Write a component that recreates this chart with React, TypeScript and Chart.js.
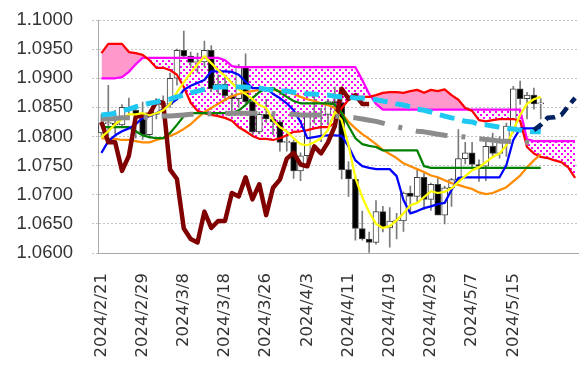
import React, { useEffect, useRef } from 'react';
import { Chart, registerables } from 'chart.js';

Chart.register(...registerables);

const dates: string[] = [
  '2024/2/21', '2024/2/22', '2024/2/23', '2024/2/26', '2024/2/27', '2024/2/28', '2024/2/29',
  '2024/3/1', '2024/3/4', '2024/3/5', '2024/3/6', '2024/3/7', '2024/3/8', '2024/3/11',
  '2024/3/12', '2024/3/13', '2024/3/14', '2024/3/15', '2024/3/18', '2024/3/19', '2024/3/20',
  '2024/3/21', '2024/3/22', '2024/3/25', '2024/3/26', '2024/3/27', '2024/3/28', '2024/3/29',
  '2024/4/1', '2024/4/2', '2024/4/3', '2024/4/4', '2024/4/5', '2024/4/8', '2024/4/9',
  '2024/4/10', '2024/4/11', '2024/4/12', '2024/4/15', '2024/4/16', '2024/4/17', '2024/4/18',
  '2024/4/19', '2024/4/22', '2024/4/23', '2024/4/24', '2024/4/25', '2024/4/26', '2024/4/29',
  '2024/4/30', '2024/5/1', '2024/5/2', '2024/5/3', '2024/5/6', '2024/5/7', '2024/5/8',
  '2024/5/9', '2024/5/10', '2024/5/13', '2024/5/14', '2024/5/15', '2024/5/16', '2024/5/17',
  '2024/5/20', '2024/5/21',
];
const futureLabels: string[] = ['', '', '', '', ''];

const openP = [
  1.0806, 1.0822, 1.0823, 1.0820, 1.0850, 1.0845, 1.0838, 1.0803, 1.0838, 1.0855,
  1.0855, 1.0900, 1.0948, 1.0938, 1.0927, 1.0928, 1.0948, 1.0882, 1.0890, 1.0870,
  1.0865, 1.0920, 1.0860, 1.0808, 1.0838, 1.0830, 1.0825, 1.0790, 1.0790, 1.0741,
  1.0767, 1.0834, 1.0836, 1.0838, 1.0860, 1.0858, 1.0743, 1.0727, 1.0642, 1.0624,
  1.0618, 1.0671, 1.0643, 1.0655, 1.0655, 1.0703, 1.0697, 1.0730, 1.0692, 1.0718,
  1.0665, 1.0712, 1.0726, 1.0762, 1.0772, 1.0752, 1.0749, 1.0783, 1.0771, 1.0790,
  1.0810, 1.0882, 1.0865, 1.0871, 1.0856,
];
const highP = [
  1.0838, 1.0888, 1.0845, 1.0855, 1.0866, 1.0850, 1.0859, 1.0844, 1.0865, 1.0870,
  1.0909, 1.0950, 1.0981, 1.0945, 1.0943, 1.0964, 1.0956, 1.0906, 1.0905, 1.0874,
  1.0924, 1.0942, 1.0866, 1.0842, 1.0864, 1.0840, 1.0828, 1.0805, 1.0794, 1.0772,
  1.0837, 1.0876, 1.0849, 1.0862, 1.0885, 1.0866, 1.0757, 1.0733, 1.0672, 1.0636,
  1.0690, 1.0680, 1.0678, 1.0668, 1.0705, 1.0715, 1.0742, 1.0738, 1.0720, 1.0730,
  1.0715, 1.0728, 1.0812, 1.0790, 1.0790, 1.0760, 1.0790, 1.0806, 1.0800, 1.0823,
  1.0886, 1.0895, 1.0876, 1.0883, 1.0865,
];
const lowP = [
  1.0802, 1.0801, 1.0805, 1.0816, 1.0832, 1.0797, 1.0795, 1.0797, 1.0830, 1.0835,
  1.0850, 1.0888, 1.0935, 1.0918, 1.0910, 1.0920, 1.0877, 1.0873, 1.0861, 1.0835,
  1.0850, 1.0855, 1.0802, 1.0805, 1.0824, 1.0803, 1.0775, 1.0775, 1.0728, 1.0724,
  1.0756, 1.0823, 1.0791, 1.0822, 1.0837, 1.0727, 1.0697, 1.0622, 1.0622, 1.0601,
  1.0615, 1.0636, 1.0610, 1.0624, 1.0637, 1.0671, 1.0686, 1.0675, 1.0673, 1.0666,
  1.0650, 1.0680, 1.0722, 1.0753, 1.0745, 1.0723, 1.0724, 1.0766, 1.0763, 1.0766,
  1.0806, 1.0855, 1.0830, 1.0847, 1.0830,
];
const closeP = [
  1.0822, 1.0823, 1.0820, 1.0850, 1.0845, 1.0838, 1.0803, 1.0838, 1.0855, 1.0855,
  1.0900, 1.0948, 1.0938, 1.0927, 1.0928, 1.0948, 1.0882, 1.0890, 1.0870, 1.0865,
  1.0920, 1.0860, 1.0808, 1.0838, 1.0830, 1.0825, 1.0790, 1.0790, 1.0741, 1.0767,
  1.0834, 1.0836, 1.0838, 1.0860, 1.0858, 1.0743, 1.0727, 1.0642, 1.0624, 1.0618,
  1.0671, 1.0643, 1.0655, 1.0655, 1.0703, 1.0697, 1.0730, 1.0692, 1.0718, 1.0665,
  1.0712, 1.0726, 1.0762, 1.0772, 1.0752, 1.0749, 1.0783, 1.0771, 1.0790, 1.0818,
  1.0882, 1.0865, 1.0871, 1.0856, 1.0856,
];

// Leading span B (magenta)
const senkouB = [
  1.0900, 1.0900, 1.0900, 1.0902, 1.0911, 1.0924, 1.0935, 1.0935, 1.0935, 1.0935,
  1.0935, 1.0935, 1.0935, 1.0935, 1.0935, 1.0935, 1.0935, 1.0935, 1.0931, 1.0921,
  1.0919, 1.0919, 1.0919, 1.0919, 1.0919, 1.0919, 1.0919, 1.0919, 1.0919, 1.0919,
  1.0919, 1.0919, 1.0919, 1.0919, 1.0919, 1.0919, 1.0919, 1.0919, 1.0897, 1.0873,
  1.0856, 1.0846, 1.0846, 1.0846, 1.0846, 1.0846, 1.0846, 1.0846, 1.0846, 1.0846,
  1.0846, 1.0846, 1.0846, 1.0846, 1.0846, 1.0846, 1.0846, 1.0846, 1.0846, 1.0846,
  1.0846, 1.0846, 1.0795, 1.0792, 1.0792, 1.0792, 1.0792, 1.0792, 1.0792, 1.0792,
];
// Leading span A (red)
const senkouA = [
  1.0943, 1.0959, 1.0959, 1.0959, 1.0945, 1.0943, 1.0940, 1.0931, 1.0918, 1.0918,
  1.0914, 1.0906, 1.0885, 1.0858, 1.0844, 1.0840, 1.0837, 1.0835, 1.0832, 1.0827,
  1.0816, 1.0809, 1.0801, 1.0796, 1.0796, 1.0794, 1.0797, 1.0802, 1.0808, 1.0809,
  1.0811, 1.0814, 1.0816, 1.0816, 1.0823, 1.0849, 1.0863, 1.0868, 1.0868, 1.0868,
  1.0871, 1.0875, 1.0876, 1.0876, 1.0875, 1.0878, 1.0880, 1.0875, 1.0880, 1.0878,
  1.0881, 1.0871, 1.0863, 1.0849, 1.0844, 1.0828, 1.0826, 1.0828, 1.0830, 1.0830,
  1.0830, 1.0827, 1.0782, 1.0771, 1.0765, 1.0763, 1.0759, 1.0756, 1.0747, 1.0729,
];
// Conversion line (blue)
const tenkan = [
  1.0772, 1.0792, 1.0802, 1.0809, 1.0814, 1.0821, 1.0832, 1.0835, 1.0840, 1.0847,
  1.0856, 1.0864, 1.0880, 1.0887, 1.0892, 1.0897, 1.0912, 1.0912, 1.0912, 1.0911,
  1.0906, 1.0894, 1.0883, 1.0883, 1.0883, 1.0873, 1.0866, 1.0857, 1.0845, 1.0825,
  1.0797, 1.0799, 1.0801, 1.0802, 1.0802, 1.0801, 1.0783, 1.0759, 1.0749, 1.0746,
  1.0744, 1.0744, 1.0744, 1.0732, 1.0691, 1.0668, 1.0672, 1.0677, 1.0680, 1.0684,
  1.0686, 1.0708, 1.0729, 1.0730, 1.0730, 1.0730, 1.0730, 1.0730, 1.0730, 1.0751,
  1.0794, 1.0814, 1.0814, 1.0814, 1.0814,
];
// Base line (green)
const kijun = [
  1.0816, 1.0816, 1.0816, 1.0816, 1.0816, 1.0809, 1.0802, 1.0799, 1.0797, 1.0797,
  1.0806, 1.0820, 1.0835, 1.0840, 1.0840, 1.0840, 1.0840, 1.0840, 1.0840, 1.0840,
  1.0845, 1.0854, 1.0866, 1.0876, 1.0883, 1.0883, 1.0876, 1.0868, 1.0861, 1.0857,
  1.0857, 1.0857, 1.0857, 1.0857, 1.0855, 1.0840, 1.0818, 1.0797, 1.0787, 1.0784,
  1.0782, 1.0776, 1.0776, 1.0776, 1.0776, 1.0776, 1.0776, 1.0749, 1.0746, 1.0746,
  1.0746, 1.0746, 1.0746, 1.0746, 1.0746, 1.0746, 1.0746, 1.0746, 1.0746, 1.0746,
  1.0746, 1.0746, 1.0746, 1.0746, 1.0746,
];
// Lagging span (dark red)
const chikou = [
  1.0825, 1.0790, 1.0790, 1.0741, 1.0767, 1.0834, 1.0836, 1.0838, 1.0860, 1.0858,
  1.0743, 1.0727, 1.0642, 1.0624, 1.0618, 1.0671, 1.0643, 1.0655, 1.0655, 1.0703,
  1.0697, 1.0730, 1.0692, 1.0718, 1.0665, 1.0712, 1.0726, 1.0762, 1.0772, 1.0752,
  1.0749, 1.0783, 1.0771, 1.0790, 1.0818, 1.0882, 1.0865, 1.0871, 1.0856, 1.0856,
];
// Short moving average (yellow)
const maShort = [
  1.0799, 1.0809, 1.0821, 1.0830, 1.0838, 1.0838, 1.0840, 1.0836, 1.0840, 1.0845,
  1.0856, 1.0876, 1.0893, 1.0909, 1.0924, 1.0938, 1.0926, 1.0914, 1.0904, 1.0892,
  1.0881, 1.0873, 1.0864, 1.0854, 1.0849, 1.0828, 1.0816, 1.0809, 1.0797, 1.0787,
  1.0785, 1.0790, 1.0797, 1.0811, 1.0842, 1.0828, 1.0785, 1.0729, 1.0696, 1.0670,
  1.0650, 1.0643, 1.0646, 1.0656, 1.0668, 1.0682, 1.0686, 1.0696, 1.0706, 1.0703,
  1.0705, 1.0711, 1.0722, 1.0732, 1.0742, 1.0747, 1.0756, 1.0765, 1.0771, 1.0785,
  1.0811, 1.0837, 1.0856, 1.0864, 1.0868,
];
// Medium moving average (orange)
const maMid = [
  1.0797, 1.0796, 1.0796, 1.0794, 1.0794, 1.0792, 1.0790, 1.0790, 1.0794, 1.0797,
  1.0801, 1.0806, 1.0813, 1.0821, 1.0832, 1.0842, 1.0849, 1.0856, 1.0863, 1.0869,
  1.0873, 1.0876, 1.0878, 1.0880, 1.0880, 1.0880, 1.0878, 1.0876, 1.0873, 1.0868,
  1.0864, 1.0861, 1.0857, 1.0854, 1.0849, 1.0840, 1.0825, 1.0814, 1.0804, 1.0796,
  1.0787, 1.0777, 1.0770, 1.0763, 1.0754, 1.0749, 1.0744, 1.0739, 1.0733, 1.0730,
  1.0725, 1.0720, 1.0717, 1.0713, 1.0710, 1.0704, 1.0701, 1.0703, 1.0708, 1.0713,
  1.0723, 1.0733, 1.0747, 1.0759, 1.0770,
];
// Long moving average (cyan dashed)
const maLong = [
  1.0837, 1.0838, 1.0840, 1.0844, 1.0847, 1.0851, 1.0854, 1.0857, 1.0859, 1.0863,
  1.0864, 1.0868, 1.0871, 1.0875, 1.0878, 1.0881, 1.0883, 1.0885, 1.0885, 1.0885,
  1.0885, 1.0885, 1.0883, 1.0883, 1.0881, 1.0880, 1.0878, 1.0878, 1.0876, 1.0875,
  1.0873, 1.0873, 1.0871, 1.0871, 1.0869, 1.0868, 1.0868, 1.0866, 1.0866, 1.0864,
  1.0863, 1.0861, 1.0859, 1.0856, 1.0854, 1.0851, 1.0847, 1.0845, 1.0842, 1.0838,
  1.0835, 1.0832, 1.0830, 1.0826, 1.0825, 1.0821, 1.0820, 1.0818, 1.0816, 1.0814,
  1.0813, 1.0811, 1.0809, 1.0808, 1.0808,
];
// Very long moving average (gray dash-dot)
const maVeryLong = [
  1.0830, 1.0830, 1.0831, 1.0832, 1.0832, 1.0833, 1.0833, 1.0833, 1.0834, 1.0835,
  1.0835, 1.0836, 1.0837, 1.0838, 1.0838, 1.0838, 1.0839, 1.0840, 1.0840, 1.0840,
  1.0840, 1.0840, 1.0840, 1.0840, 1.0840, 1.0839, 1.0838, 1.0838, 1.0838, 1.0837,
  1.0837, 1.0837, 1.0837, 1.0836, 1.0835, 1.0834, 1.0833, 1.0832, 1.0830, 1.0828,
  1.0826, 1.0823, 1.0820, 1.0817, 1.0814, 1.0812, 1.0809, 1.0808, 1.0806, 1.0804,
  1.0802, 1.0801, 1.0800, 1.0799, 1.0797, 1.0796, 1.0795, 1.0794, 1.0792, 1.0792,
  1.0791, 1.0790, 1.0790, 1.0790, 1.0790,
];
// Projection (navy dashed), starting at the 64th category
const projStart = 63;
const projection = [1.0811, 1.0820, 1.0832, 1.0833, 1.0837, 1.0852, 1.0866];

const yTicks = { min: 1.06, max: 1.1, step: 0.005 };

function makeDots(): CanvasPattern | string {
  const c = document.createElement('canvas');
  c.width = 6;
  c.height = 6;
  const g = c.getContext('2d');
  if (!g) return '#ffccff';
  g.fillStyle = '#ffffff';
  g.fillRect(0, 0, 6, 6);
  g.fillStyle = '#ff00ff';
  g.fillRect(0, 0, 2, 2);
  g.fillRect(3, 3, 2, 2);
  return g.createPattern(c, 'repeat') || '#ffccff';
}

export default function App() {
  const ref = useRef<HTMLCanvasElement>(null);

  useEffect(() => {
    const canvas = ref.current;
    if (!canvas) return;
    const dots = makeDots();
    const labels = [...dates, ...futureLabels];
    const bodies = openP.map((o, i) => [o, closeP[i]]);
    const wicks = lowP.map((l, i) => [l, highP[i]]);
    const bodyColors = openP.map((o, i) => (closeP[i] >= o ? '#ffffff' : '#000000'));
    const projData = [...new Array(projStart).fill(null), ...projection];

    const line = (data: any[], color: string, width: number, order: number, extra: any = {}) => ({
      type: 'line',
      data,
      borderColor: color,
      backgroundColor: color,
      borderWidth: width,
      pointRadius: 0,
      pointHoverRadius: 0,
      tension: 0,
      fill: false,
      spanGaps: false,
      borderJoinStyle: 'round',
      order,
      ...extra,
    });

    const chart = new Chart(canvas, {
      type: 'bar',
      data: {
        labels,
        datasets: [
          line(senkouB, '#ff00ff', 2.25, 10) as any,
          line(senkouA, '#ff0000', 2.25, 9, {
            fill: { target: 0, above: '#ff99cc', below: dots },
          }) as any,
          {
            type: 'bar',
            data: wicks,
            backgroundColor: '#7a7a7a',
            borderWidth: 0,
            barThickness: 1,
            grouped: false,
            order: 12,
          },
          {
            type: 'bar',
            data: bodies,
            backgroundColor: bodyColors,
            borderColor: '#404040',
            borderWidth: 1,
            borderSkipped: false,
            barThickness: 6,
            minBarLength: 1,
            grouped: false,
            order: 11,
          },
          line(maMid, '#ff8c00', 2.25, 8) as any,
          line(kijun, '#008000', 2.25, 7) as any,
          line(tenkan, '#0000ff', 2.25, 6) as any,
          line(chikou, '#800000', 4.5, 5) as any,
          line(maShort, '#ffff00', 2.25, 4) as any,
          line(maVeryLong, '#8c8c8c', 5, 3, {
            borderDash: [32, 14, 4, 14],
            borderDashOffset: 3.7,
            borderCapStyle: 'butt',
          }) as any,
          line(maLong, '#1ec8f2', 5, 2, {
            borderDash: [15, 8],
            borderCapStyle: 'butt',
          }) as any,
          line(projData, '#002060', 4.5, 1, {
            borderDash: [10, 6],
            borderCapStyle: 'butt',
          }) as any,
        ],
      },
      options: {
        responsive: false,
        maintainAspectRatio: false,
        animation: false,
        events: [],
        layout: { padding: { top: 20, right: 1.5, left: 0, bottom: 0 } },
        plugins: {
          legend: { display: false },
          tooltip: { enabled: false },
          filler: { drawTime: 'beforeDatasetsDraw', propagate: false },
        } as any,
        scales: {
          x: {
            type: 'category',
            offset: true,
            grid: { display: false },
            border: { display: true, color: '#a8a8a8', width: 1 },
            ticks: {
              autoSkip: false,
              maxRotation: 90,
              minRotation: 90,
              padding: 12,
              color: '#333333',
              font: { family: 'DejaVu Sans', size: 16.5 },
              callback: function (this: any, value: any, index: number) {
                return index % 6 === 0 ? this.getLabelForValue(value) : '';
              },
            },
            afterFit: (s: any) => {
              s.height = 113;
              s.paddingLeft = 0;
              s.paddingRight = 0;
            },
          },
          y: {
            min: yTicks.min,
            max: yTicks.max,
            grid: { color: '#c4c4c4', lineWidth: 1, tickLength: 6, tickBorderDash: [2, 2] },
            border: { display: true, color: '#a8a8a8', width: 1, dash: [2, 2] },
            ticks: {
              stepSize: yTicks.step,
              padding: 19,
              color: '#333333',
              font: { family: 'Liberation Sans', size: 18.5 },
              callback: (v: any) => Number(v).toFixed(4),
            },
            afterFit: (s: any) => {
              s.width = 98;
              s.paddingTop = 0;
              s.paddingBottom = 0;
            },
          },
        },
      } as any,
    } as any);

    return () => chart.destroy();
  }, []);

  return (
    <div style={{ position: 'fixed', left: 0, top: 0, width: 580, height: 366, background: '#ffffff' }}>
      <canvas ref={ref} width={580} height={366} style={{ display: 'block', width: 580, height: 366 }} />
    </div>
  );
}
